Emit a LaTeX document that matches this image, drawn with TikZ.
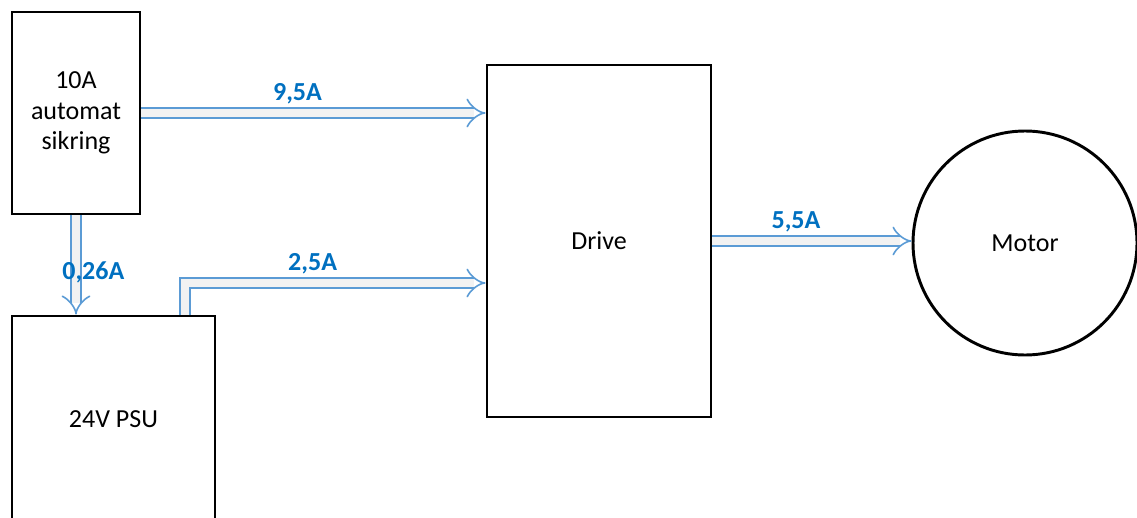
\documentclass[tikz,border=0pt]{standalone}
\usepackage{fontspec}
\setmainfont{Carlito}
\usetikzlibrary{arrows.meta}
\definecolor{flowline}{RGB}{91,155,213}
\definecolor{flowfill}{RGB}{242,242,242}
\definecolor{amptext}{RGB}{0,112,192}
\tikzset{
block/.style={draw,line width=2.2pt,align=center,inner sep=0pt},
flow/.style={draw=flowline,line width=1.2pt,double=flowfill,double distance=6.5pt,-{Implies[scale=.45]}},
amp/.style={text=amptext,font=\fontsize{19.5}{23}\selectfont\bfseries,inner sep=2pt}
}
\begin{document}
\begin{tikzpicture}[x=0.75pt,y=-0.75pt,font=\fontsize{19.5}{23}\selectfont]
\useasboundingbox(0,0)rectangle(1137,517);
\node[block,minimum width=96pt,minimum height=151.5pt](fuse)at(76,113){10A\\automat\\sikring};
\node[block,minimum width=152.25pt,minimum height=154.5pt](psu)at(113.5,419){24V PSU};
\node[block,minimum width=168pt,minimum height=264pt](drive)at(599,241){Drive};
\node[block,circle,minimum size=168pt](motor)at(1025,243){Motor};
\coordinate(tap)at([xshift=53.6pt]psu.north);
% stroemme
\draw[flow](fuse.east)--(drive.west|-fuse.east)node[amp,midway,above=4pt,xshift=-12pt]{9,5A};
\draw[flow](fuse.south)--(fuse.south|-psu.north)node[amp,pos=.57,xshift=13pt]{0,26A};
\draw[flow](tap)|-([yshift=-31.5pt]drive.west)node[amp,pos=.75,above=4pt,xshift=-17pt]{2,5A};
\draw[flow](drive.east)--(drive.east-|motor.west)node[amp,midway,above=4pt,xshift=-12pt]{5,5A};
\end{tikzpicture}
\end{document}
